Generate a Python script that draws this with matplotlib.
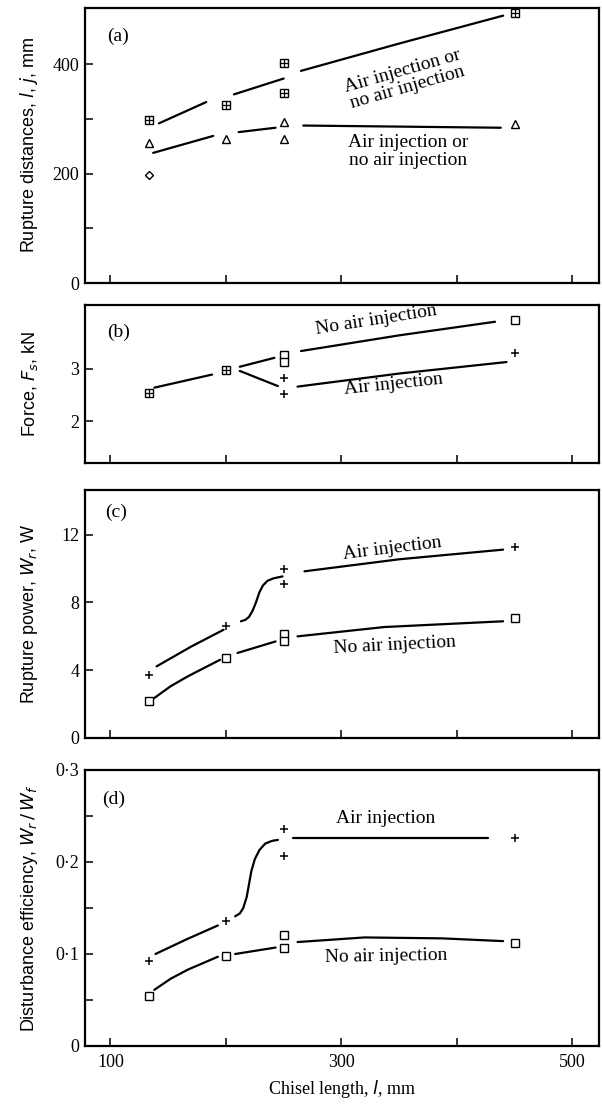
import matplotlib
matplotlib.use("Agg")
import matplotlib.pyplot as plt
from matplotlib.ticker import FixedLocator, NullFormatter

SERIF = ["Liberation Serif", "DejaVu Serif"]
SANS = ["Liberation Sans", "DejaVu Sans"]

# ---------------- data ----------------
# Panel (a) rupture distances (mm)
a_box_x = [133, 200, 250, 250, 450]
a_box_y = [298, 325, 403, 347, 493]
a_tri_x = [133, 200, 250, 250, 450]
a_tri_y = [256, 264, 295, 264, 291]
a_dia_x = [133]
a_dia_y = [198]
a_upper_fit = [
    [(142, 292), (183, 331)],
    [(207, 345), (250, 374)],
    [(265, 388), (350, 438), (440, 489)],
]
a_lower_fit = [
    [(137, 238), (189, 269)],
    [(211, 276), (243, 284)],
    [(267, 288), (438, 284)],
]

# Panel (b) force (kN)
b_box_x = [133, 200]
b_box_y = [2.54, 2.97]
b_sq_x = [250, 250, 450]
b_sq_y = [3.27, 3.13, 3.93]
b_plus_x = [250, 250, 450]
b_plus_y = [2.83, 2.51, 3.31]
b_noair_fit = [
    [(138, 2.64), (188, 2.89)],
    [(212, 3.04), (242, 3.21)],
    [(265, 3.34), (350, 3.64), (433, 3.90)],
]
b_air_fit = [
    [(212, 2.96), (245, 2.67)],
    [(262, 2.66), (350, 2.91), (443, 3.13)],
]

# Panel (c) rupture power (W)
c_plus_x = [133, 200, 250, 250, 450]
c_plus_y = [3.74, 6.59, 9.99, 9.09, 11.27]
c_sq_x = [133, 200, 250, 250, 450]
c_sq_y = [2.16, 4.72, 6.14, 5.70, 7.08]
c_air_fit = [
    [(140, 4.23), (170, 5.40), (198, 6.39)],
    [(213, 6.89), (217, 6.98), (220, 7.15), (223, 7.50), (226, 8.00),
     (229, 8.60), (232, 9.00), (236, 9.28), (241, 9.42), (249, 9.54)],
    [(268, 9.84), (350, 10.55), (440, 11.12)],
]
c_noair_fit = [
    [(138, 2.36), (152, 3.05), (167, 3.64), (195, 4.62)],
    [(210, 5.02), (243, 5.70)],
    [(262, 6.00), (337, 6.55), (440, 6.89)],
]

# Panel (d) disturbance efficiency
d_plus_x = [133, 200, 250, 250, 450]
d_plus_y = [0.092, 0.136, 0.236, 0.206, 0.226]
d_sq_x = [133, 200, 250, 250, 450]
d_sq_y = [0.054, 0.098, 0.121, 0.106, 0.112]
d_air_fit = [
    [(139, 0.100), (166, 0.116), (193, 0.131)],
    [(208, 0.141), (212, 0.144), (215, 0.150), (218, 0.162), (220, 0.176),
     (222, 0.190), (225, 0.203), (229, 0.213), (234, 0.220), (240, 0.223),
     (245, 0.224)],
    [(258, 0.226), (427, 0.226)],
]
d_noair_fit = [
    [(138, 0.061), (152, 0.073), (167, 0.083), (193, 0.097)],
    [(208, 0.100), (243, 0.107)],
    [(262, 0.113), (320, 0.118), (387, 0.117), (440, 0.114)],
]

x_ticks = [100, 200, 300, 400, 500]
x_tick_labels = ["100", "", "300", "", "500"]

# ---------------- figure ----------------
fig = plt.figure(figsize=(6.02, 11.05), dpi=100)
L, W = 85 / 602, 514 / 602
H = 1105
ax_a = fig.add_axes([L, 1 - 283 / H, W, 275 / H])
ax_b = fig.add_axes([L, 1 - 463 / H, W, 158 / H])
ax_c = fig.add_axes([L, 1 - 738 / H, W, 248 / H])
ax_d = fig.add_axes([L, 1 - 1046 / H, W, 276 / H])

LW = 1.6
MS = 5.5
FS_TXT = 14
FS_TICK = 13
FS_YLAB = 13


def draw_fit(ax, segs):
    for seg in segs:
        xs = [p[0] for p in seg]
        ys = [p[1] for p in seg]
        ax.plot(xs, ys, color="black", lw=LW, solid_capstyle="round")


def boxplus(ax, xs, ys):
    ax.plot(xs, ys, ls="none", marker="s", ms=MS, mfc="white", mec="black", mew=1.0)
    ax.plot(xs, ys, ls="none", marker="+", ms=MS, mec="black", mew=0.9)


def style(ax, ylim, major, labels, minor=None, xlabels=False):
    ax.set_xlim(78, 523)
    ax.set_ylim(*ylim)
    for s in ax.spines.values():
        s.set_linewidth(1.6)
    ax.xaxis.set_major_locator(FixedLocator(x_ticks))
    if xlabels:
        ax.set_xticklabels(x_tick_labels, fontfamily=SERIF, fontsize=FS_TICK)
    else:
        ax.set_xticklabels([])
    ax.yaxis.set_major_locator(FixedLocator(major))
    ax.set_yticklabels(labels, fontfamily=SERIF, fontsize=FS_TICK)
    if minor:
        ax.yaxis.set_minor_locator(FixedLocator(minor))
        ax.yaxis.set_minor_formatter(NullFormatter())
    ax.tick_params(which="both", direction="in", length=6, width=1.1, pad=4)
    ax.tick_params(axis="x", pad=6)


# (a)
draw_fit(ax_a, a_upper_fit)
draw_fit(ax_a, a_lower_fit)
boxplus(ax_a, a_box_x, a_box_y)
ax_a.plot(a_tri_x, a_tri_y, ls="none", marker="^", ms=MS, mfc="white", mec="black", mew=1.0)
ax_a.plot(a_dia_x, a_dia_y, ls="none", marker="D", ms=4, mfc="white", mec="black", mew=1.0)
style(ax_a, (0, 503), [0, 200, 400], ["0", "200", "400"], minor=[100, 300])
ax_a.text(107, 452, "(a)", fontfamily=SERIF, fontsize=FS_TXT, ha="center", va="center")
ax_a.text(355, 372, "Air injection or\nno air injection", fontfamily=SERIF, fontsize=FS_TXT,
          ha="center", va="center", rotation=16, linespacing=1.0)
ax_a.text(358, 241, "Air injection or\nno air injection", fontfamily=SERIF, fontsize=FS_TXT,
          ha="center", va="center", linespacing=1.1)
ax_a.set_ylabel("Rupture distances, $l$, $j$, mm", fontfamily=SANS, fontsize=FS_YLAB)

# (b)
draw_fit(ax_b, b_noair_fit)
draw_fit(ax_b, b_air_fit)
boxplus(ax_b, b_box_x, b_box_y)
ax_b.plot(b_sq_x, b_sq_y, ls="none", marker="s", ms=MS, mfc="white", mec="black", mew=1.0)
ax_b.plot(b_plus_x, b_plus_y, ls="none", marker="+", ms=MS + 0.5, mec="black", mew=1.1)
style(ax_b, (1.2, 4.22), [2, 3], ["2", "3"])
ax_b.text(107, 3.69, "(b)", fontfamily=SERIF, fontsize=FS_TXT, ha="center", va="center")
ax_b.text(330, 3.94, "No air injection", fontfamily=SERIF, fontsize=FS_TXT,
          ha="center", va="center", rotation=9)
ax_b.text(345, 2.71, "Air injection", fontfamily=SERIF, fontsize=FS_TXT,
          ha="center", va="center", rotation=6)
ax_b.set_ylabel("Force, $F_s$, kN", fontfamily=SANS, fontsize=FS_YLAB)

# (c)
draw_fit(ax_c, c_air_fit)
draw_fit(ax_c, c_noair_fit)
ax_c.plot(c_plus_x, c_plus_y, ls="none", marker="+", ms=MS + 0.5, mec="black", mew=1.1)
ax_c.plot(c_sq_x, c_sq_y, ls="none", marker="s", ms=MS, mfc="white", mec="black", mew=1.0)
style(ax_c, (0, 14.64), [0, 4, 8, 12], ["0", "4", "8", "12"])
ax_c.text(105, 13.3, "(c)", fontfamily=SERIF, fontsize=FS_TXT, ha="center", va="center")
ax_c.text(344, 11.2, "Air injection", fontfamily=SERIF, fontsize=FS_TXT,
          ha="center", va="center", rotation=7)
ax_c.text(346, 5.5, "No air injection", fontfamily=SERIF, fontsize=FS_TXT,
          ha="center", va="center", rotation=3)
ax_c.set_ylabel("Rupture power, $W_r$, W", fontfamily=SANS, fontsize=FS_YLAB)

# (d)
draw_fit(ax_d, d_air_fit)
draw_fit(ax_d, d_noair_fit)
ax_d.plot(d_plus_x, d_plus_y, ls="none", marker="+", ms=MS + 0.5, mec="black", mew=1.1)
ax_d.plot(d_sq_x, d_sq_y, ls="none", marker="s", ms=MS, mfc="white", mec="black", mew=1.0)
style(ax_d, (0, 0.3), [0, 0.1, 0.2, 0.3], ["0", "0·1", "0·2", "0·3"],
      minor=[0.05, 0.15, 0.25], xlabels=True)
ax_d.text(103, 0.268, "(d)", fontfamily=SERIF, fontsize=FS_TXT, ha="center", va="center")
ax_d.text(338, 0.247, "Air injection", fontfamily=SERIF, fontsize=FS_TXT,
          ha="center", va="center")
ax_d.text(339, 0.097, "No air injection", fontfamily=SERIF, fontsize=FS_TXT,
          ha="center", va="center", rotation=1)
ax_d.set_ylabel("Disturbance efficiency, $W_r\\,/\\,W_f$", fontfamily=SANS, fontsize=FS_YLAB)
ax_d.set_xlabel("Chisel length, $l$, mm", fontfamily=SERIF, fontsize=FS_TICK, labelpad=5)

# align y labels horizontally
for ax in (ax_a, ax_b, ax_c, ax_d):
    ax.yaxis.set_label_coords(-0.088, 0.5)

fig.savefig("out.png", dpi=100, facecolor="white")
